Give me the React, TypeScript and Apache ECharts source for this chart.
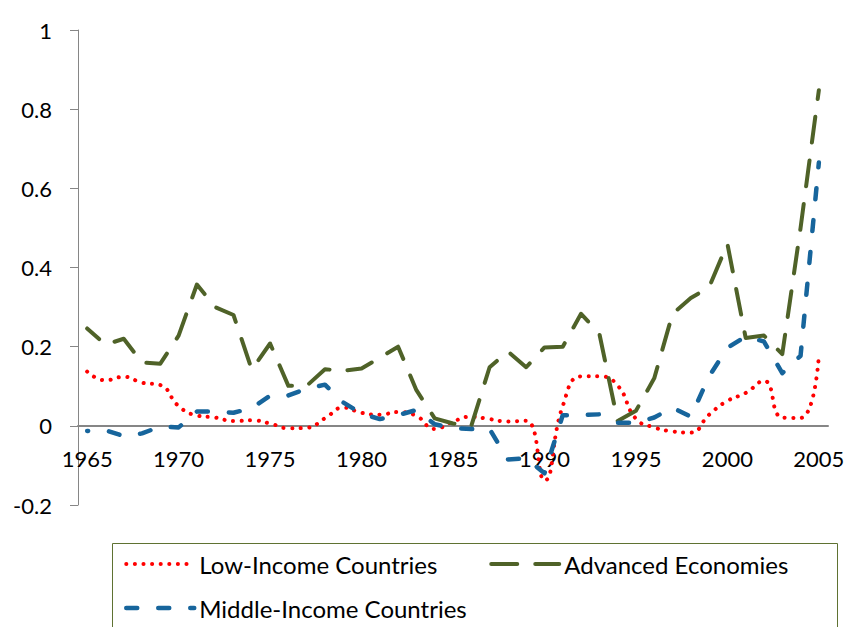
import { useEffect, useRef } from "react";
import * as echarts from "echarts";

const years = Array.from({ length: 41 }, (_, i) => String(1965 + i));

const lowIncome = [
  0.137, 0.115, 0.124, 0.109, 0.103, 0.05, 0.026, 0.021, 0.012, 0.014,
  0.006, -0.006, -0.005, 0.019, 0.046, 0.033, 0.028, 0.035, 0.025, -0.008,
  0.011, 0.023, 0.017, 0.011, 0.013, -0.138, 0.05, 0.125, 0.125, 0.102,
  0.018, -0.004, -0.014, -0.017, 0.028, 0.063, 0.083, 0.114, 0.021, 0.02,
  0.177,
];

const advanced = [
  0.246, 0.205, 0.22, 0.16, 0.157, 0.228, 0.357, 0.3, 0.28, 0.142,
  0.208, 0.101, 0.101, 0.143, 0.139, 0.145, 0.172, 0.2, 0.09, 0.019,
  0.006, 0.0, 0.148, 0.188, 0.148, 0.198, 0.2, 0.283, 0.233, 0.012,
  0.038, 0.12, 0.283, 0.323, 0.35, 0.46, 0.222, 0.228, 0.181, 0.5,
  0.848,
];

const middleIncome = [
  -0.013, -0.011, -0.026, -0.019, -0.002, -0.004, 0.036, 0.036, 0.033, 0.045,
  0.076, 0.077, 0.094, 0.104, 0.059, 0.031, 0.017, 0.027, 0.04, 0.004,
  -0.006, -0.008, -0.008, -0.085, -0.082, -0.12, 0.027, 0.027, 0.029, 0.008,
  0.008, 0.021, 0.046, 0.023, 0.125, 0.197, 0.226, 0.213, 0.133, 0.177,
  0.665,
];

const Y_MIN = -0.2;
const Y_MAX = 1;

const FONT = "Lato, 'Open Sans', sans-serif";
const AXIS_GREY = "#868686";

const RED = "#ff0000";
const GREEN = "#4f6228";
const BLUE = "#17659c";

const GRID_TOP = 30;
const GRID_BOTTOM = 122;
const CHART_H = 627;

export default function App() {
  const ref = useRef<HTMLDivElement>(null);

  useEffect(() => {
    document.body.style.margin = "0";
    if (!ref.current) return;
    const chart = echarts.init(ref.current, null, { renderer: "svg" });
    // x axis sits on the zero line: shift it up from the grid bottom
    const plotH = CHART_H - GRID_TOP - GRID_BOTTOM;
    const zeroShift = (plotH * (0 - Y_MIN)) / (Y_MAX - Y_MIN);
    chart.setOption({
      animation: false,
      backgroundColor: "#ffffff",
      grid: { left: 78, right: 21, top: GRID_TOP, bottom: GRID_BOTTOM, outerBoundsMode: "none" },
      xAxis: {
        type: "category",
        data: years,
        boundaryGap: true,
        offset: -zeroShift,
        axisLine: { onZero: false, lineStyle: { color: AXIS_GREY, width: 2 } },
        axisTick: { inside: true, length: 8, interval: 4, lineStyle: { color: AXIS_GREY, width: 1.5 } },
        axisLabel: { interval: 4, margin: 22, fontSize: 22, fontFamily: FONT, color: "#000" },
        splitLine: { show: false },
      },
      yAxis: {
        type: "value",
        min: Y_MIN,
        max: Y_MAX,
        interval: 0.2,
        axisLine: { show: true, lineStyle: { color: AXIS_GREY, width: 1 } },
        axisTick: { show: true, length: 8, lineStyle: { color: AXIS_GREY } },
        axisLabel: { margin: 26, fontSize: 22, fontFamily: FONT, color: "#000" },
        splitLine: { show: false },
      },
      legend: {
        left: 124,
        top: 552,
        width: 720,
        padding: 0,
        itemGap: 20,
        itemWidth: 68,
        itemHeight: 14,
        selectedMode: false,
        itemStyle: { opacity: 0 },
        lineStyle: { width: "inherit" },
        textStyle: { fontSize: 24, fontFamily: FONT, color: "#000", width: 270, lineHeight: 21 },
        data: [
          { name: "Low-Income Countries" },
          { name: "Advanced Economies", lineStyle: { dashOffset: 0 } },
          { name: "Middle-Income Countries", lineStyle: { dashOffset: 0 } },
        ],
      },
      graphic: [
        {
          type: "rect",
          shape: { x: 112.5, y: 543.5, width: 725, height: 120 },
          style: { fill: "none", stroke: "#5f7232", lineWidth: 1 },
          silent: true,
        },
      ],
      series: [
        {
          name: "Low-Income Countries",
          type: "line",
          data: lowIncome,
          symbol: "none",
          smooth: true,
          lineStyle: { color: RED, width: 4, type: [0.1, 8.5], cap: "round" },
          itemStyle: { color: RED },
        },
        {
          name: "Advanced Economies",
          type: "line",
          data: advanced,
          symbol: "none",
          lineStyle: { color: GREEN, width: 4, type: [26, 18], dashOffset: 10, cap: "round", join: "round" },
          itemStyle: { color: GREEN },
        },
        {
          name: "Middle-Income Countries",
          type: "line",
          data: middleIncome,
          symbol: "none",
          lineStyle: { color: BLUE, width: 4.5, type: [11, 21], dashOffset: 10, cap: "round", join: "round" },
          itemStyle: { color: BLUE },
        },
      ],
    });
    return () => chart.dispose();
  }, []);

  return <div ref={ref} style={{ width: 849, height: 627 }} />;
}
